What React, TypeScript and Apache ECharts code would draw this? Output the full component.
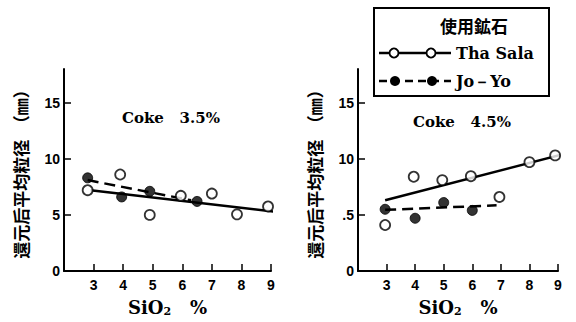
import React, { useEffect, useRef } from "react";
import * as echarts from "echarts";

// Axis tick values
const xTicks = [3, 4, 5, 6, 7, 8, 9];
const yTicks = [0, 5, 10, 15];

// Panel titles
const panelLabels = ["Coke   3.5%", "Coke   4.5%"];
const legendTitle = "使用鉱石";
const seriesNames = ["Tha Sala", "Jo－Yo"];

// Coke 3.5 %
const thaSala35 = [[2.8, 7.2], [3.9, 8.6], [4.9, 5.0], [5.95, 6.7], [7.0, 6.9], [7.85, 5.05], [8.9, 5.75]];
const joYo35 = [[2.8, 8.3], [3.95, 6.6], [4.9, 7.1], [6.5, 6.2]];
const thaSalaFit35 = [[2.9, 7.2], [9.4, 5.2]];
const joYoFit35 = [[2.8, 8.1], [6.3, 6.3]];

// Coke 4.5 %
const thaSala45 = [[2.95, 4.1], [3.95, 8.4], [4.95, 8.1], [5.95, 8.45], [6.95, 6.6], [8.0, 9.7], [8.9, 10.3]];
const joYo45 = [[2.95, 5.5], [4.0, 4.7], [5.0, 6.1], [6.0, 5.4]];
const thaSalaFit45 = [[2.95, 6.3], [9.55, 10.65]];
const joYoFit45 = [[2.95, 5.45], [6.85, 5.85]];

const SANS = "'Liberation Sans', Arial, sans-serif";
const SERIF = "'DejaVu Serif', 'Liberation Serif', serif";
const CJK = "'Noto Sans CJK JP', 'Noto Sans CJK SC', sans-serif";

export default function App() {
  const ref = useRef<HTMLDivElement>(null);

  useEffect(() => {
    if (!ref.current) return;
    const chart = echarts.init(ref.current, null, { renderer: "svg" });

    const makeX = (gi: number) => ({
      type: "value",
      gridIndex: gi,
      min: 2,
      max: 9,
      splitLine: { show: false },
      axisLine: { show: true, lineStyle: { color: "#000", width: 2 } },
      axisTick: { show: true, inside: true, length: 7, lineStyle: { color: "#000", width: 1.5 }, customValues: xTicks },
      axisLabel: { customValues: xTicks, color: "#000", fontFamily: SANS, fontWeight: "bold", fontSize: 14, margin: 7 },
      name: "SiO{sub|2}   %",
      nameLocation: "middle",
      nameGap: 26,
      nameTextStyle: {
        color: "#000",
        fontFamily: SERIF,
        fontWeight: "bold",
        fontSize: 18,
        rich: { sub: { fontFamily: SERIF, fontWeight: "bold", fontSize: 11, verticalAlign: "bottom", padding: [9, 0, 0, 0] } },
      },
    });

    const makeY = (gi: number, fmt: (v: number) => string) => ({
      type: "value",
      gridIndex: gi,
      min: 0,
      max: 18,
      splitLine: { show: false },
      axisLine: { show: true, lineStyle: { color: "#000", width: 2 } },
      axisTick: { show: true, inside: true, length: 7, lineStyle: { color: "#000", width: 1.5 }, customValues: yTicks },
      axisLabel: { customValues: yTicks, formatter: fmt, color: "#000", fontFamily: SANS, fontWeight: "bold", fontSize: 14, margin: 4 },
      name: "還元后平均粒径  （㎜）",
      nameLocation: "middle",
      nameGap: 35,
      nameRotate: 90,
      nameTextStyle: { color: "#000", fontFamily: CJK, fontWeight: "bold", fontSize: 17 },
    });

    const open = (name: string, data: number[][], xi: number) => ({
      type: "scatter", name, xAxisIndex: xi, yAxisIndex: xi, data, symbol: "circle", symbolSize: 10, z: 5,
      itemStyle: { color: "#fff", borderColor: "#000", borderWidth: 1.8 },
    });
    const filled = (name: string, data: number[][], xi: number) => ({
      type: "scatter", name, xAxisIndex: xi, yAxisIndex: xi, data, symbol: "circle", symbolSize: 10, z: 5,
      itemStyle: { color: "#000", borderColor: "#000", borderWidth: 1 },
    });
    const fit = (name: string, data: number[][], xi: number, dashed: boolean) => ({
      type: "line", name, xAxisIndex: xi, yAxisIndex: xi, data, showSymbol: false, clip: false, z: 3,
      lineStyle: { color: "#000", width: 2.5, type: dashed ? [11, 6] : "solid" },
    });

    const lgX = 373, lgY = 7;
    chart.setOption({
      animation: false,
      backgroundColor: "#fff",
      grid: [
        { left: 64, top: 69, width: 207, height: 206 },
        { left: 358, top: 69, width: 200, height: 206 },
      ],
      xAxis: [makeX(0), makeX(1)],
      yAxis: [
        makeY(0, (v: number) => String(v)),
        makeY(1, (v: number) => (v === 5 ? ".5" : String(v))),
      ],
      series: [
        fit(seriesNames[0], thaSalaFit35, 0, false),
        fit(seriesNames[1], joYoFit35, 0, true),
        open(seriesNames[0], thaSala35, 0),
        filled(seriesNames[1], joYo35, 0),
        fit(seriesNames[0], thaSalaFit45, 1, false),
        fit(seriesNames[1], joYoFit45, 1, true),
        open(seriesNames[0], thaSala45, 1),
        filled(seriesNames[1], joYo45, 1),
      ],
      graphic: [
        { type: "text", left: 122, top: 110, style: { text: panelLabels[0], fill: "#000", font: `bold 15px ${SERIF}` } },
        { type: "text", left: 413, top: 114, style: { text: panelLabels[1], fill: "#000", font: `bold 15px ${SERIF}` } },
        {
          type: "group", left: lgX, top: lgY,
          children: [
            { type: "rect", shape: { x: 0, y: 0, width: 175, height: 88 }, style: { fill: "#fff", stroke: "#000", lineWidth: 2 } },
            { type: "text", x: 100, y: 17, style: { text: legendTitle, fill: "#000", font: `bold 17px ${CJK}`, align: "center", verticalAlign: "middle" } },
            { type: "line", shape: { x1: 5, y1: 45, x2: 77, y2: 45 }, style: { stroke: "#000", lineWidth: 2.5 } },
            { type: "circle", shape: { cx: 20, cy: 45, r: 4.5 }, style: { fill: "#fff", stroke: "#000", lineWidth: 1.8 } },
            { type: "circle", shape: { cx: 57, cy: 45, r: 4.5 }, style: { fill: "#fff", stroke: "#000", lineWidth: 1.8 } },
            { type: "text", x: 82, y: 45, style: { text: seriesNames[0], fill: "#000", font: `bold 16px ${SERIF}`, verticalAlign: "middle" } },
            { type: "line", shape: { x1: 5, y1: 73, x2: 77, y2: 73 }, style: { stroke: "#000", lineWidth: 2.5, lineDash: [8, 5] } },
            { type: "circle", shape: { cx: 21, cy: 73, r: 5 }, style: { fill: "#000" } },
            { type: "circle", shape: { cx: 58, cy: 73, r: 5 }, style: { fill: "#000" } },
            { type: "text", x: 82, y: 73, style: { text: seriesNames[1], fill: "#000", font: `bold 16px ${SERIF}`, verticalAlign: "middle" } },
          ],
        },
      ],
    });
    return () => chart.dispose();
  }, []);

  return <div ref={ref} style={{ position: "fixed", left: 0, top: 0, width: 576, height: 322, background: "#fff" }} />;
}
